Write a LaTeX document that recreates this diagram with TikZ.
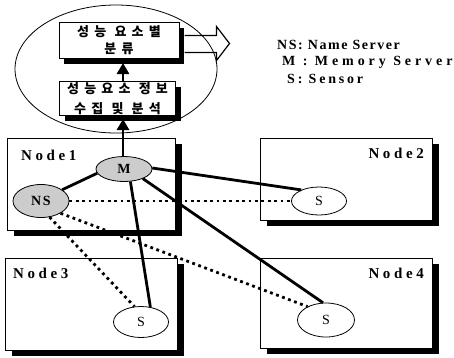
\documentclass[tikz,border=0pt]{standalone}
\usepackage{fontspec}
\setmainfont{Liberation Serif}
\newfontfamily\kr{Noto Sans CJK KR}
\usetikzlibrary{shapes.geometric,arrows.meta}

\begin{document}
\begin{tikzpicture}[x=1pt,y=-1pt,
  hostbox/.style={draw,line width=0.9pt,fill=white},
  procbox/.style={draw,line width=1pt,fill=white,inner sep=0,align=center},
  procfont/.style={font=\kr\bfseries\fontsize{13}{#1}\selectfont\addfontfeatures{LetterSpace=40}},
  boxshadow/.style={fill=black},
  server/.style={ellipse,draw,line width=0.8pt,fill=black!20,inner sep=0,
    font=\bfseries\fontsize{14}{14}\selectfont\addfontfeatures{LetterSpace=12}},
  sensor/.style={ellipse,draw,line width=0.8pt,fill=white,inner sep=0,
    font=\fontsize{14}{14}\selectfont},
  link/.style={line width=2.8pt},
  namelink/.style={line width=2.8pt,dash pattern=on 2.8pt off 3.6pt},
  flow/.style={line width=2.6pt,-{Triangle[length=11pt,width=12pt]}},
  hostlabel/.style={inner sep=0,
    font=\bfseries\fontsize{15}{15}\selectfont\addfontfeatures{LetterSpace=24}},
  legend/.style={anchor=west,inner sep=0,
    font=\bfseries\fontsize{14}{14}\selectfont\addfontfeatures{LetterSpace=#1}}]

\useasboundingbox (0,0) rectangle (454,357);

% monitoring module
\node[ellipse,draw,line width=0.8pt,minimum width=202pt,minimum height=128pt,inner sep=0] (mod) at (116,69) {};
\fill[boxshadow] (64,27.5) rectangle (184,63.5);
\fill[boxshadow] (64.5,86.5) rectangle (180.5,120.5);
\node[procbox,procfont=17,minimum width=120pt,minimum height=36pt] (classify) at (119,40.5) {성능 요소별\\분류};
\node[procbox,procfont=20,minimum width=116pt,minimum height=34pt] (collect) at (117.5,98.5) {성능요소 정보\\수집 및 분석};

% output arrow (outline)
\draw[line width=1.2pt,line join=miter] (classify.east) ++(5,-5) -- ++(32,0) -- ++(0,-9)
  -- ++(13,17) -- ++(-13,17) -- ++(0,-8) -- ++(-32,0);

% hosts: solid shadow, then the white frame
\fill[boxshadow] (14,144) rectangle (182,236);
\fill[boxshadow] (267,144) rectangle (439,226);
\fill[boxshadow] (12,264) rectangle (184,356);
\fill[boxshadow] (267,264) rectangle (439,354);
\draw[hostbox] (7,138) rectangle (175,230);
\draw[hostbox] (260,138) rectangle (432,220);
\draw[hostbox] (5,258) rectangle (177,350);
\draw[hostbox] (260,258) rectangle (432,348);

\node[hostlabel,anchor=west] (l1) at (21,155) {Node1};
\node[hostlabel,anchor=east] (l2) at (424,153) {Node2};
\node[hostlabel,anchor=west] (l3) at (13,273) {Node3};
\node[hostlabel,anchor=east] (l4) at (424,273) {Node4};

% servers and sensors
\node[server,minimum width=56pt,minimum height=25pt] (M) at (124,169) {M};
\node[server,minimum width=56pt,minimum height=33pt] (NS) at (41,201) {NS};
\node[sensor,minimum width=55pt,minimum height=28pt] (S2) at (319,201) {S};
\node[sensor,minimum width=55pt,minimum height=31pt] (S3) at (141,322) {S};
\node[sensor,minimum width=57pt,minimum height=34pt] (S4) at (326,320) {S};

% data flow upward
\draw[flow,shorten >=3pt] (M.north -| 123,0) -- (collect.south -| 123,0);
\draw[flow,shorten >=4pt] (collect.north -| 123,0) -- (classify.south -| 123,0);

% memory server links
\draw[link] (NS.28) -- (M.189);
\draw[link] (M.2) -- (S2.148);
\draw[link] (M.-27) -- (S4.100);
\draw[link] (M.-63) -- (S3.58);

% name server links
\draw[namelink] (NS.0) -- (S2.180);
\draw[namelink] (NS.-62) -- (S3.113);
\draw[namelink] (NS.-32) -- (S4.144);

% legend
\node[legend=11] (k1) at (277,45) {NS: Name Server};
\node[legend=28] (k2) at (282,62) {M : Memory Server};
\node[legend=20] (k3) at (287,79) {S: Sensor};
\end{tikzpicture}
\end{document}
